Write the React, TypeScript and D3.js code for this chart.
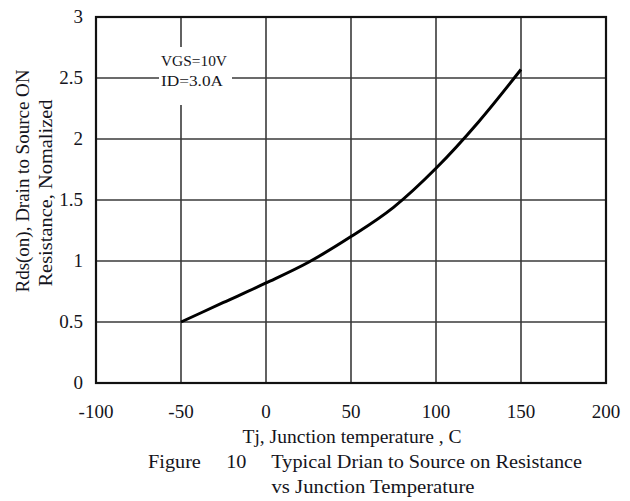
import React from 'react';
import * as d3 from 'd3';

// curve: Tj (C) vs normalized Rds(on)
const tempC = [-50, -25, 0, 25, 50, 75, 100, 125, 150];
const rdsNorm = [0.5, 0.66, 0.82, 0.99, 1.2, 1.44, 1.76, 2.14, 2.57];

const xTicks = [-100, -50, 0, 50, 100, 150, 200];
const yTicks = [0, 0.5, 1, 1.5, 2, 2.5, 3];
const yTickLabels = ['0', '0.5', '1', '1.5', '2', '2.5', '3'];

const W = 630;
const H = 501;
const margin = { top: 17, right: 24, bottom: 118, left: 96 };
const FONT = '"Liberation Serif", "Times New Roman", serif';
const INK = '#141420';

const App: React.FC = () => {
  const innerW = W - margin.left - margin.right;
  const innerH = H - margin.top - margin.bottom;

  const x = d3.scaleLinear().domain([-100, 200]).range([margin.left, margin.left + innerW]);
  const y = d3.scaleLinear().domain([0, 3]).range([margin.top + innerH, margin.top]);

  const points = tempC.map((t, i) => [t, rdsNorm[i]] as [number, number]);
  const line = d3.line<[number, number]>()
    .x(d => x(d[0]))
    .y(d => y(d[1]))
    .curve(d3.curveMonotoneX);

  // white box behind the condition note
  const note = { x: 159, y: 47, w: 73, h: 58 };

  return (
    <svg width={W} height={H} style={{ position: 'absolute', left: 0, top: 0, background: '#fff' }}>
      {/* grid */}
      <g stroke="#3a3a3a" strokeWidth={1.6}>
        {xTicks.slice(1, -1).map(t => (
          <line key={'gx' + t} x1={x(t)} x2={x(t)} y1={y(0)} y2={y(3)} />
        ))}
        {yTicks.slice(1, -1).map(t => (
          <line key={'gy' + t} x1={x(-100)} x2={x(200)} y1={y(t)} y2={y(t)} />
        ))}
      </g>

      <rect x={note.x} y={note.y} width={note.w} height={note.h} fill="#fff" />
      <text x={161} y={66} fontFamily={FONT} fontSize={15} fill={INK} textLength={66} lengthAdjust="spacingAndGlyphs">VGS=10V</text>
      <text x={161} y={86} fontFamily={FONT} fontSize={15} fill={INK} textLength={62} lengthAdjust="spacingAndGlyphs">ID=3.0A</text>

      {/* frame */}
      <rect x={x(-100)} y={y(3)} width={innerW} height={innerH} fill="none" stroke="#111" strokeWidth={2.2} />

      {/* curve */}
      <path d={line(points) || ''} fill="none" stroke="#000" strokeWidth={3} strokeLinecap="butt" />

      {/* y ticks */}
      {yTicks.map((t, i) => (
        <text key={'yl' + t} x={83} y={y(t) + 6} textAnchor="end" fontFamily={FONT} fontSize={19} fill={INK}>
          {yTickLabels[i]}
        </text>
      ))}

      {/* x ticks */}
      {xTicks.map(t => (
        <text key={'xl' + t} x={x(t)} y={418} textAnchor="middle" fontFamily={FONT} fontSize={19} fill={INK}>
          {t}
        </text>
      ))}

      {/* y title */}
      <text transform="translate(29,181) rotate(-90)" textAnchor="middle" fontFamily={FONT} fontSize={19} fill={INK}
        textLength={223} lengthAdjust="spacingAndGlyphs">
        Rds(on), Drain to Source ON
      </text>
      <text transform="translate(52,193) rotate(-90)" textAnchor="middle" fontFamily={FONT} fontSize={19} fill={INK}
        textLength={187} lengthAdjust="spacingAndGlyphs">
        Resistance, Nomalized
      </text>

      {/* x title and caption */}
      <text x={352} y={443} textAnchor="middle" fontFamily={FONT} fontSize={19} fill={INK}
        textLength={219} lengthAdjust="spacingAndGlyphs">
        Tj, Junction temperature , C
      </text>
      <text x={365} y={468} textAnchor="middle" fontFamily={FONT} fontSize={19} fill={INK} style={{ whiteSpace: 'pre' }}
        textLength={434} lengthAdjust="spacingAndGlyphs">
        {'Figure     10     Typical Drian to Source on Resistance'}
      </text>
      <text x={373} y={493} textAnchor="middle" fontFamily={FONT} fontSize={19} fill={INK}
        textLength={203} lengthAdjust="spacingAndGlyphs">
        vs Junction Temperature
      </text>
    </svg>
  );
};

export default App;
